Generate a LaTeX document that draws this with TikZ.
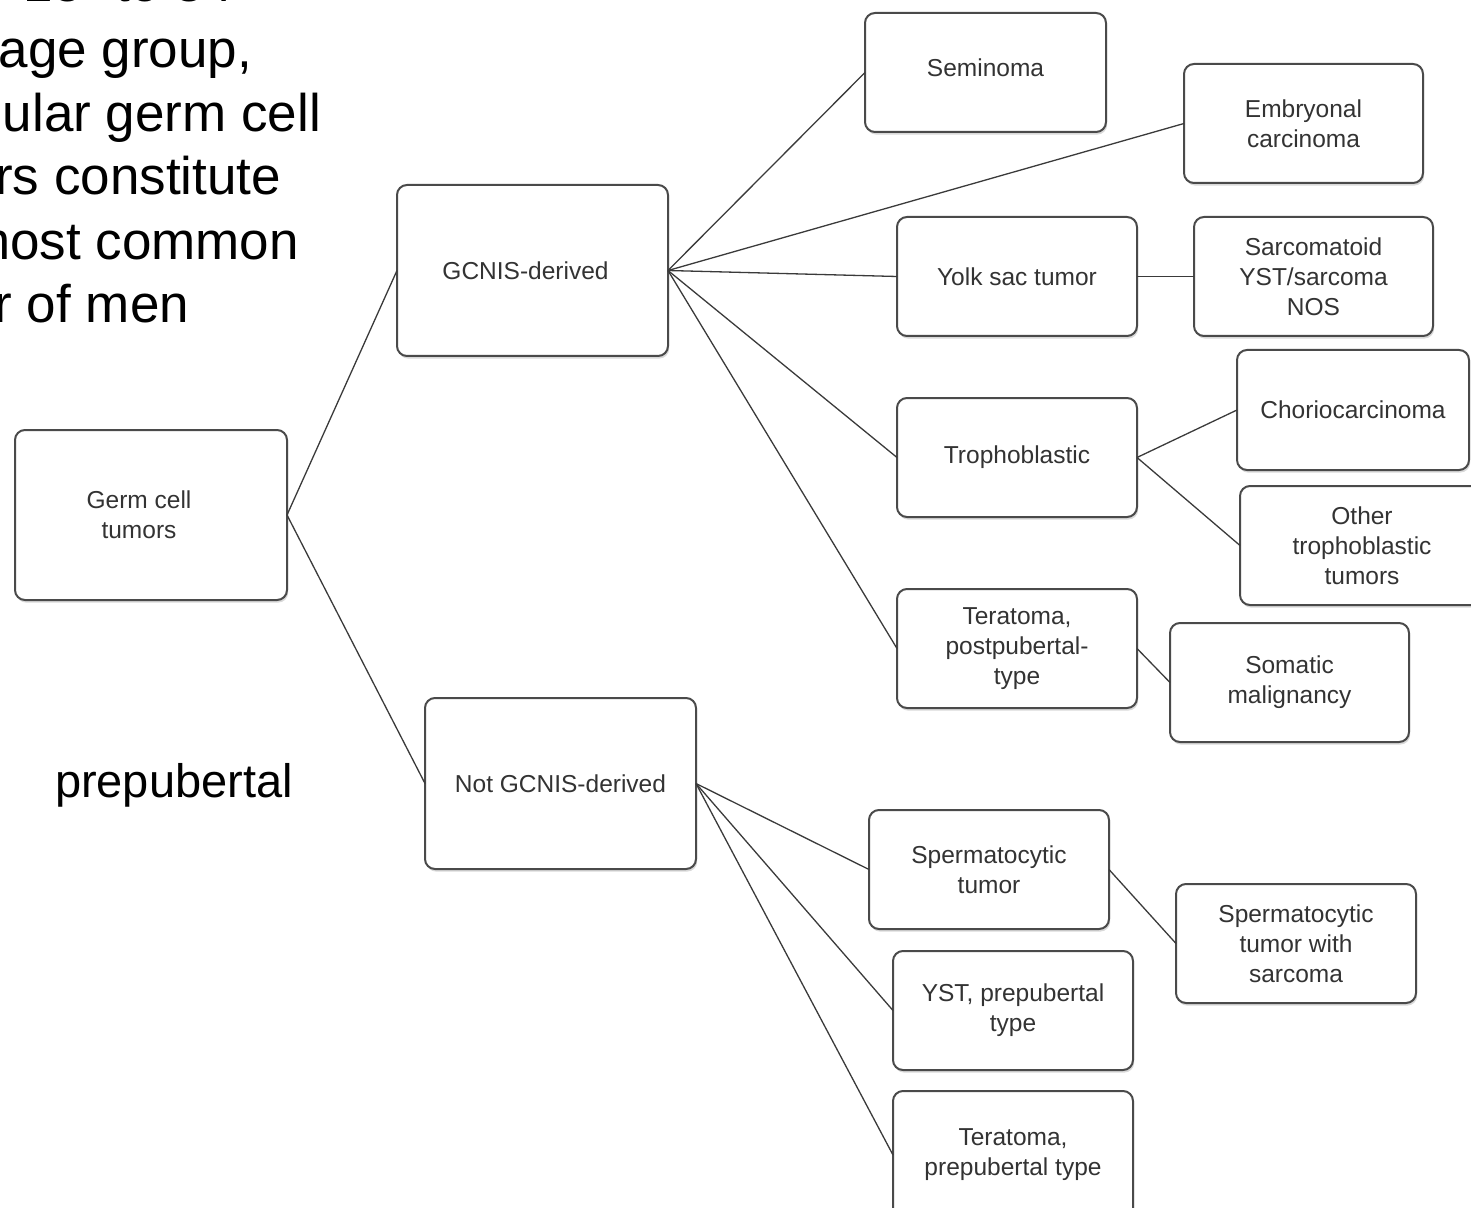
\documentclass[tikz,border=0pt]{standalone}
\usepackage{fontspec}
\setmainfont{Liberation Sans}
\usetikzlibrary{shadows}
\definecolor{boxline}{HTML}{4A4A4A}
\definecolor{boxtext}{HTML}{333333}
\definecolor{conn}{HTML}{3A3A3A}
\tikzset{
  bx/.style={draw=boxline, line width=1pt, rounded corners=5pt, fill=white,
    inner sep=0pt, outer sep=0pt, align=center,
    font=\fontsize{12.25}{15}\selectfont, text=boxtext,
    drop shadow={shadow xshift=0.6pt, shadow yshift=-1.3pt, opacity=0.3}},
  sz/.style 2 args={minimum width=#1*0.5pt, minimum height=#2*0.5pt},
  link/.style={draw=conn, line width=0.65pt},
  slide/.style={font=\fontsize{26.5}{32}\selectfont, text=black, inner sep=0pt, outer sep=0pt},
  slidesmall/.style={font=\fontsize{23.5}{28}\selectfont, text=black, inner sep=0pt, outer sep=0pt}
}
\begin{document}
\begin{tikzpicture}[x=0.5pt,y=-0.5pt]
\useasboundingbox (0,0) rectangle (1471,1208);
\clip (0,0) rectangle (1471,1208);

% slide text (clipped at the left / top)
\node[slide, anchor=base west] (t0) at (24,2) {15- to 34-};
\node[slide, anchor=base east] (t1) at (252,68) {age group,};
\node[slide, anchor=base east] (t2) at (321,132) {ular germ cell};
\node[slide, anchor=base east] (t3) at (281,195) {rs constitute};
\node[slide, anchor=base east] (t4) at (299,260) {most common};
\node[slide, anchor=base east] (t5) at (189,323) {r of men};
\node[slidesmall, anchor=base west] (t6) at (55,797) {prepubertal};

% boxes
\node[bx, sz={272}{170}] (gct) at (151,515) {\hspace*{-12pt}Germ cell\\\hspace*{-12pt}tumors};
\node[bx, sz={271}{171}] (gd) at (532.5,270.5) {\hspace*{-7pt}GCNIS-derived};
\node[bx, sz={271}{171}] (ngd) at (560.5,783.5) {Not GCNIS-derived};
\node[bx, sz={241}{119}] (sem) at (985.5,72.5) {Seminoma\\[-10pt]\mbox{}};
\node[bx, sz={239}{119}] (emb) at (1303.5,123.5) {Embryonal\\carcinoma};
\node[bx, sz={240}{119}] (yst) at (1017,276.5) {Yolk sac tumor};
\node[bx, sz={239}{119}] (sarc) at (1313.5,276.5) {Sarcomatoid\\YST/sarcoma\\NOS};
\node[bx, sz={240}{119}] (tro) at (1017,457.5) {Trophoblastic};
\node[bx, sz={232}{120}] (chorio) at (1353,410) {Choriocarcinoma};
\node[bx, sz={244}{119}] (oth) at (1362,545.5) {Other\\trophoblastic\\tumors};
\node[bx, sz={240}{119}] (terpost) at (1017,648.5) {Teratoma,\\postpubertal-\\type};
\node[bx, sz={239}{119}] (som) at (1289.5,682.5) {Somatic\\malignancy};
\node[bx, sz={240}{119}] (spt) at (989,869.5) {Spermatocytic\\tumor};
\node[bx, sz={240}{119}] (sptsar) at (1296,943.5) {Spermatocytic\\tumor with\\sarcoma};
\node[bx, sz={240}{119}] (ystpre) at (1013,1010.5) {YST, prepubertal\\type};
\node[bx, sz={240}{128}] (terpre) at (1013,1155) {Teratoma,\\prepubertal type};

% connectors
\draw[link] (gct.east) -- (gd.west);
\draw[link] (gct.east) -- (ngd.west);
\draw[link] (gd.east) -- (sem.west);
\draw[link] (gd.east) -- (emb.west);
\draw[link] (gd.east) -- (yst.west);
\draw[link] (gd.east) -- (tro.west);
\draw[link] (gd.east) -- (terpost.west);
\draw[link] (yst.east) -- (sarc.west);
\draw[link] (tro.east) -- (chorio.west);
\draw[link] (tro.east) -- (oth.west);
\draw[link] (terpost.east) -- (som.west);
\draw[link] (ngd.east) -- (spt.west);
\draw[link] (ngd.east) -- (ystpre.west);
\draw[link] (ngd.east) -- (terpre.west);
\draw[link] (spt.east) -- (sptsar.west);
\end{tikzpicture}
\end{document}
